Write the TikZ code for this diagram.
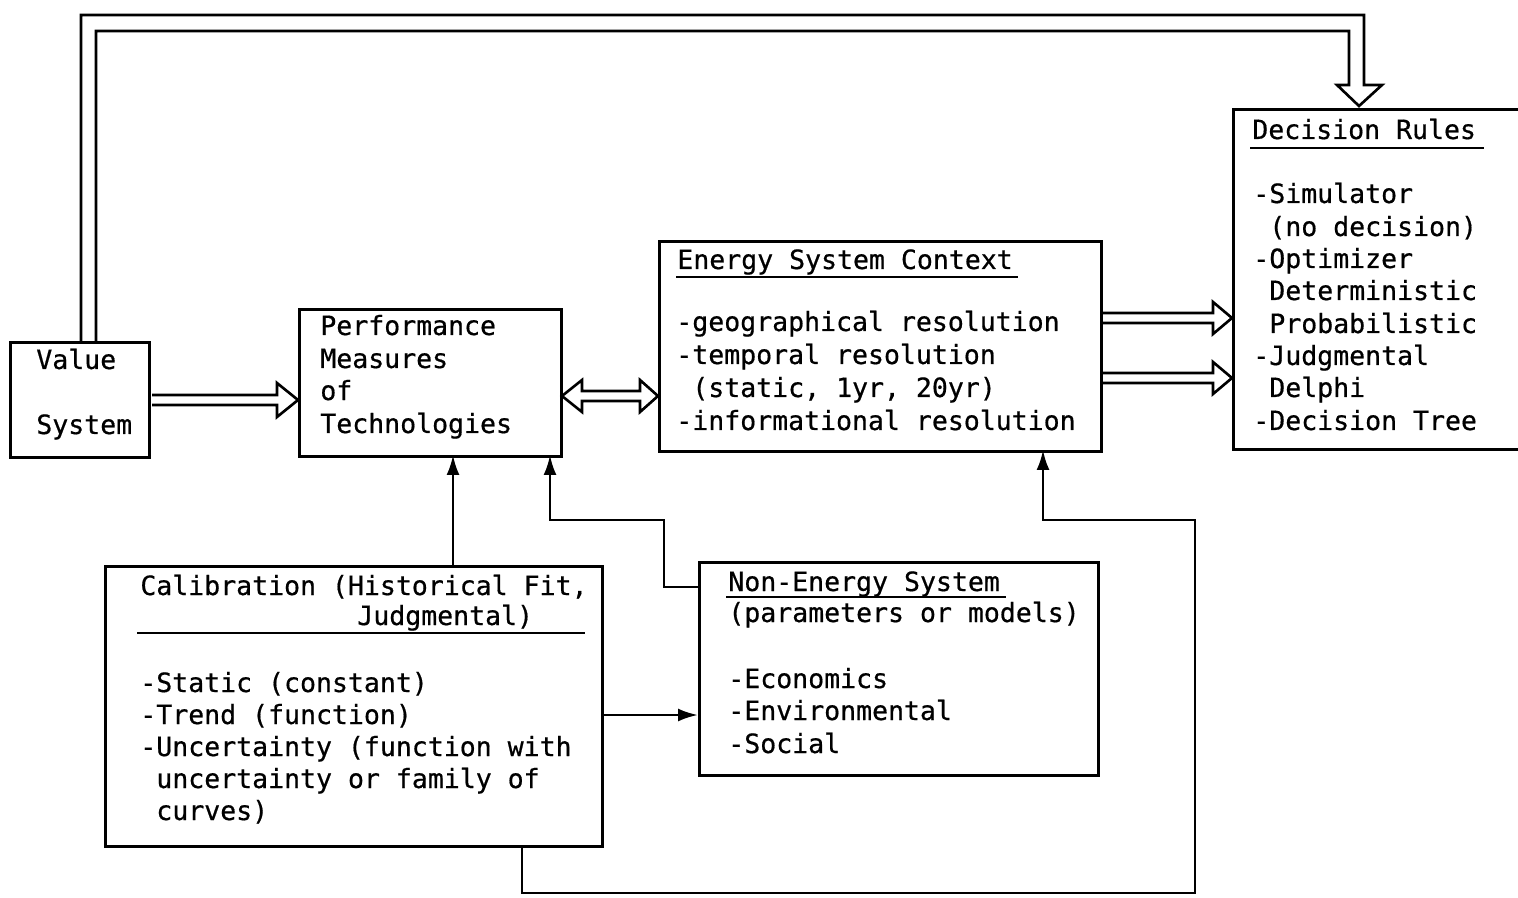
\documentclass[tikz,border=0pt]{standalone}
\usepackage{fontspec}
\newfontfamily\diagfont[FakeBold=0.6]{DejaVu Sans Mono}
\usetikzlibrary{arrows.meta,calc}
\begin{document}
\begin{tikzpicture}[x=0.02cm,y=-0.02cm,
  box/.style={draw,line width=1.5pt,inner sep=0,anchor=north west},
  txt/.style={anchor=base west,inner sep=0,font=\diagfont\fontsize{15.1}{18.4}\selectfont},
  wire/.style={line width=1.5pt},
  arr/.style={wire,-{Latex[length=0.4cm,width=0.26cm]}},
  hollow/.style={line width=1.5pt,line join=miter}]
\useasboundingbox (0,0) rectangle (1518,898);
\begin{scope}
\clip (0,0) rectangle (1518,898);
% boxes
\node[box,minimum width=2.78cm,minimum height=2.30cm] (val) at (9,341) {};
\node[box,minimum width=5.24cm,minimum height=2.94cm] (perf) at (298,308) {};
\node[box,minimum width=8.84cm,minimum height=4.20cm] (ctx) at (658,240) {};
\node[box,minimum width=5.96cm,minimum height=6.80cm] (dec) at (1232,108) {};
\node[box,minimum width=9.94cm,minimum height=5.60cm] (cal) at (104,565) {};
\node[box,minimum width=7.98cm,minimum height=4.26cm] (non) at (698,561) {};
% texts
\node[txt] (v1) at (36,369) {Value};
\node[txt] (v2) at (36,434) {System};
\node[txt] (p1) at (320,335) {Performance};
\node[txt] (p2) at (320,368) {Measures};
\node[txt] (p3) at (320,400) {of};
\node[txt] (p4) at (320,433) {Technologies};
\node[txt] (e0) at (677,269) {Energy System Context};
\node[txt] (e1) at (676,331) {-geographical resolution};
\node[txt] (e2) at (676,364) {-temporal resolution};
\node[txt] (e3) at (692,397) {(static, 1yr, 20yr)};
\node[txt] (e4) at (676,430) {-informational resolution};
\node[txt] (d0) at (1252,139) {Decision Rules};
\node[txt] (d1) at (1253,203) {-Simulator};
\node[txt] (d2) at (1269,236) {(no decision)};
\node[txt] (d3) at (1253,268) {-Optimizer};
\node[txt] (d4) at (1269,300) {Deterministic};
\node[txt] (d5) at (1269,333) {Probabilistic};
\node[txt] (d6) at (1253,365) {-Judgmental};
\node[txt] (d7) at (1269,397) {Delphi};
\node[txt] (d8) at (1253,430) {-Decision Tree};
\node[txt] (c0) at (140,595) {Calibration (Historical Fit,};
\node[txt] (c0b) at (357,625) {Judgmental)};
\node[txt] (c1) at (140,692) {-Static (constant)};
\node[txt] (c2) at (140,724) {-Trend (function)};
\node[txt] (c3) at (140,756) {-Uncertainty (function with};
\node[txt] (c4) at (156,788) {uncertainty or family of};
\node[txt] (c5) at (156,820) {curves)};
\node[txt] (n0) at (728,591) {Non-Energy System};
\node[txt] (n1) at (728,622) {(parameters or models)};
\node[txt] (n2) at (728,688) {-Economics};
\node[txt] (n3) at (728,720) {-Environmental};
\node[txt] (n4) at (728,753) {-Social};
% underlines
\draw[wire] (676,277) -- (1018,277);
\draw[wire] (1250,148) -- (1484,148);
\draw[wire] (726,597) -- (1006,597);
\draw[wire] (137,633) -- (585,633);
% hollow double arrows
\draw[hollow] (81,341) -- (81,15) -- (1364,15) -- (1364,85) -- (1382,85) -- (1359,106)
  -- (1337,85) -- (1349,85) -- (1349,31) -- (96,31) -- (96,341);
\draw[hollow] (152,395) -- (277,395) -- (277,383) -- (298,400) -- (277,417) -- (277,405) -- (152,405);
\draw[hollow] (582,391) -- (640,391) -- (640,380) -- (658,396) -- (640,412) -- (640,401)
  -- (582,401) -- (582,412) -- (562,396) -- (582,380) -- cycle;
\draw[hollow] (1103,313) -- (1213,313) -- (1213,302) -- (1232,318) -- (1213,334) -- (1213,323) -- (1103,323);
\draw[hollow] (1103,373) -- (1213,373) -- (1213,362) -- (1232,378) -- (1213,394) -- (1213,383) -- (1103,383);
% thin connectors
\coordinate (calTop) at (453,565);
\coordinate (perfA) at (453,455);
\draw[arr] (calTop) -- (perfA);
\coordinate (nonL) at (698,587);
\draw[arr] (nonL) -- (664,587) -- (664,520) -- (550,520) -- (550,455);
\coordinate (calR) at (601,715);
\coordinate (nonIn) at (698,715);
\draw[arr] (calR) -- (nonIn);
\coordinate (calB) at (522,845);
\coordinate (ctxB) at (1043,450);
\draw[arr] (calB) -- (522,893) -- (1195,893) -- (1195,520) -- (1043,520) -- (ctxB);
\end{scope}
\end{tikzpicture}
\end{document}
